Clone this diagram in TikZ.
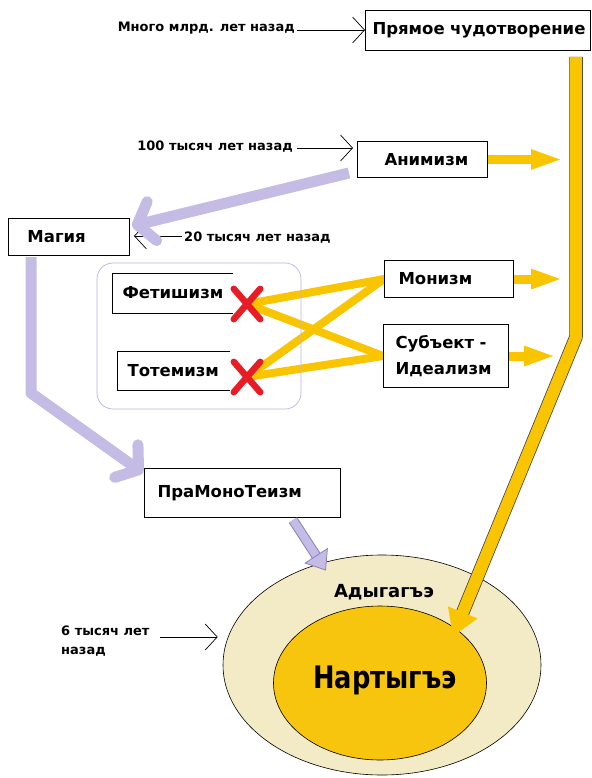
\documentclass[tikz,border=0pt]{standalone}
\usepackage{fontspec}
\setmainfont{DejaVu Sans}
\usetikzlibrary{arrows.meta,shapes.geometric,shapes.misc,backgrounds}
\definecolor{lav}{RGB}{196,188,228}
\definecolor{lavedge}{RGB}{140,130,190}
\definecolor{yel}{RGB}{249,197,0}
\definecolor{outerfill}{RGB}{243,234,198}
\definecolor{innerfill}{RGB}{248,197,14}
\definecolor{xred}{RGB}{232,28,36}
\definecolor{grpedge}{RGB}{185,180,225}
\begin{document}
\begin{tikzpicture}[x=1pt,y=-1pt,
  box/.style={draw=black, line width=1pt, fill=white, inner xsep=0pt, inner ysep=2pt,
    align=left, anchor=north west, font=\bfseries\fontsize{16.5}{26}\selectfont},
  openbox/.style={box, draw=none, fill=none},
  lbl/.style={font=\bfseries\fontsize{13}{19}\selectfont, inner sep=0pt},
  tarrow/.style={draw=black, line width=0.7pt, -{Straight Barb[length=12pt,width=26pt]}},
  lavarrow/.style={draw=lav, line width=11pt, line join=round,
    -{Straight Barb[round,length=15pt,width=40pt]}},
  yelarrow/.style={draw=yel, line width=9pt, -{Triangle[length=32pt,width=18pt]}},
  yline/.style={draw=yel, line width=8pt, line cap=round},
  xmark/.style={cross out, draw=xred, line width=6.5pt, minimum width=20pt,
    minimum height=24pt, inner sep=0pt, line cap=round},
]
\useasboundingbox (0,0) rectangle (591,778);
\begin{scope}[on background layer]
\fill[white] (0,0) rectangle (591,778);
\end{scope}

% ellipses
\node[ellipse, draw=black, line width=0.6pt, fill=outerfill, minimum width=318pt,
  minimum height=220pt, inner sep=0pt] (outer) at (382,665) {};
\node[ellipse, draw=black, line width=0.6pt, fill=innerfill, minimum width=213pt,
  minimum height=154pt, inner sep=0pt] (inner) at (380,683) {};
\node[anchor=base, inner sep=0pt, font=\bfseries\fontsize{18}{20}\selectfont] (adyg) at (384,597) {Адыгагъэ};
\node[anchor=base, inner sep=0pt] (nart) at (385,688)
  {\scalebox{0.83}[1]{\bfseries\fontsize{31}{34}\selectfont Нартыгъэ}};

% group container
\node[draw=grpedge, line width=0.7pt, rounded corners=16pt, minimum width=204pt,
  minimum height=146pt, inner sep=0pt] (grp) at (199,336) {};

% boxes
\node[box, text width=225pt, minimum height=40pt] (chudo) at (365,10) {\hspace*{7pt}Прямое чудотворение};
\node[box, text width=130pt, minimum height=36pt] (anim) at (357,141) {\hspace*{27pt}Анимизм};
\node[box, text width=121pt, minimum height=37pt] (magia) at (8,218) {\hspace*{19pt}Магия};
\node[openbox, text width=120pt, minimum height=39pt] (fet) at (112,273) {\hspace*{10pt}Фетишизм};
\node[openbox, text width=112pt, minimum height=38pt] (tot) at (117,351) {\hspace*{10pt}Тотемизм};
\draw[line width=1pt] (fet.north east) -- (fet.north west) -- (fet.south west) -- (fet.south east);
\draw[line width=1pt] (tot.north east) -- (tot.north west) -- (tot.south west) -- (tot.south east);
\node[box, text width=129pt, minimum height=37pt] (monizm) at (384,260) {\hspace*{14pt}Монизм};
\node[box, text width=125pt, minimum height=63pt] (subj) at (383,324)
  {\hspace*{12pt}Субъект -\\\hspace*{12pt}Идеализм};
\node[box, text width=196pt, minimum height=49pt] (pra) at (144,468) {\hspace*{13pt}ПраМоноТеизм};

% red crosses
\node[xmark] (x1) at (247,304) {};
\node[xmark] (x2) at (247,377) {};

% yellow crossing lines (behind the crosses and boxes)
\begin{scope}[on background layer]
\draw[yline] (x1.center) -- (monizm.west);
\draw[yline] (x1.center) -- (subj.west);
\draw[yline] (x2.center) -- (monizm.west);
\draw[yline] (x2.center) -- (subj.west);
\end{scope}

% labels with thin arrows
\node[lbl, anchor=base east] (l1) at (295,32) {Много млрд. лет назад};
\node[lbl, anchor=base east] (l2) at (293,150) {100 тысяч лет назад};
\node[lbl, anchor=base west] (l3) at (184,241) {20 тысяч лет назад};
\node[lbl, anchor=north west, align=left] (l4) at (61,626) {6 тысяч лет\\назад};
\coordinate (s1) at ([xshift=2pt,yshift=2pt]l1.base east);
\coordinate (s2) at ([xshift=4pt,yshift=2pt]l2.base east);
\coordinate (s3) at ([xshift=-2pt,yshift=5pt]l3.base west);
\coordinate (s4) at ([xshift=10pt,yshift=-11pt]l4.north east);
\coordinate (e1) at (s1 -| chudo.west);
\coordinate (e2) at (s2 -| anim.west);
\coordinate (e3) at (s3 -| magia.east);
\coordinate (e4) at (s4 -| outer.west);
\draw[tarrow] (s1) -- (e1);
\draw[tarrow] (s2) -- ([xshift=-4pt]e2);
\draw[tarrow] (s3) -- ([xshift=4pt]e3);
\draw[tarrow] (s4) -- ([xshift=-5pt]e4);

% lavender arrows
\draw[lavarrow] ([xshift=-8pt,yshift=5pt]anim.south west) -- ([xshift=2pt,yshift=-8pt]magia.north east);
\draw[lavarrow] ([xshift=23pt,yshift=-1pt]magia.south west) -- ++(0,136) -- ([xshift=-1pt,yshift=-5pt]pra.north west);
\draw[draw=lavedge, line width=10pt, shorten >=14pt] ([xshift=-48pt,yshift=-2pt]pra.south east) -- ([xshift=3pt,yshift=-8pt]outer.120);
\draw[draw=lav, line width=8pt, -{Triangle[length=18pt,width=28pt,fill=lav,color=lavedge,line width=0.8pt]}]
  ([xshift=-48pt,yshift=-2pt]pra.south east) -- ([xshift=3pt,yshift=-8pt]outer.120);

% yellow arrows
\coordinate (ybar) at (563,0);
\draw[yelarrow] (anim.east) -- (anim.east -| ybar);
\draw[yelarrow] (monizm.east) -- (monizm.east -| ybar);
\draw[yelarrow] (subj.east) -- ([xshift=-7pt]subj.east -| ybar);
\draw[black!75, line width=13.5pt, line join=round, shorten >=20pt]
  ([xshift=-15pt,yshift=-6pt]chudo.south east) -- ++(0,280) -- ([xshift=-8pt,yshift=-4pt]inner.32);
\draw[yel, line width=12pt, line join=round, -{Triangle[length=26pt,width=30pt]}]
  ([xshift=-15pt,yshift=-6pt]chudo.south east) -- ++(0,280) -- ([xshift=-8pt,yshift=-4pt]inner.32);
\end{tikzpicture}
\end{document}
